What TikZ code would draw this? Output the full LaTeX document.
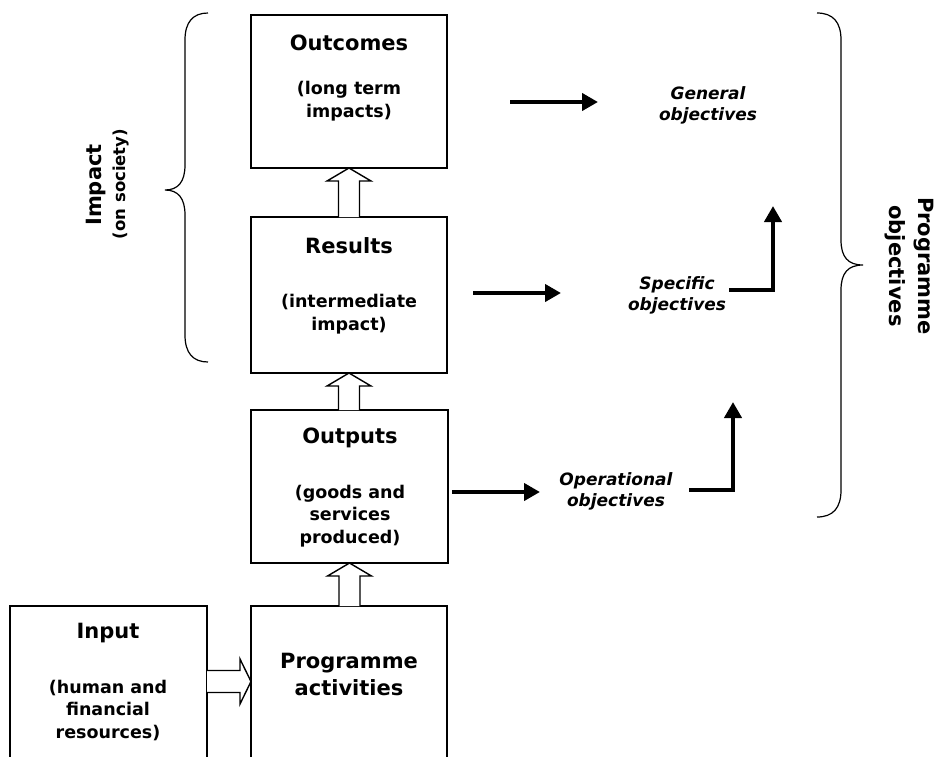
\documentclass[tikz,border=0pt]{standalone}
\usepackage{fontspec}
\setmainfont{DejaVu Sans}
\usetikzlibrary{arrows.meta,calc}
\begin{document}
\begin{tikzpicture}[x=1pt,y=-1pt,
  box/.style={draw,line width=1.4pt,anchor=north west,inner sep=0pt,outer sep=0pt,minimum width=196pt},
  openbox/.style={draw=none,line width=1.4pt,anchor=north west,inner sep=0pt,outer sep=0pt,minimum width=196pt,minimum height=151pt},
  side/.style={line width=1.4pt},
  boxtitle/.style={font=\fontsize{21}{25}\selectfont\bfseries,align=center,inner sep=0pt},
  boxsub/.style={font=\fontsize{17.5}{22.5}\selectfont\bfseries,align=center,inner sep=0pt},
  objtext/.style={font=\fontsize{17}{21}\selectfont\bfseries\itshape,align=center,inner sep=0pt},
  sidelabel/.style={font=\fontsize{21}{29}\selectfont\bfseries,align=center,inner sep=0pt},
  hollow/.style={line width=1.4pt,fill=white,line join=miter},
  blk/.style={line width=4.5pt,line join=miter,-{Triangle[length=16pt,width=17pt]}},
  brace/.style={line width=1.2pt}]
\useasboundingbox (0,0) rectangle (936,756);

% boxes
\node[box,minimum height=153pt] (outc) at (251,15) {};
\node[box,minimum height=156pt] (res) at (251,217) {};
\node[box,minimum height=153pt,minimum width=197pt] (outp) at (251,410) {};
\node[openbox] (act) at (251,606) {};
\node[openbox,minimum width=197pt] (inp) at (10,606) {};
\draw[side] (act.south west) -- (act.north west) -- (act.north east) -- (act.south east);
\draw[side] (inp.south west) -- (inp.north west) -- (inp.north east) -- (inp.south east);

% box texts
\node[boxtitle] (tOutc) at (349,43) {Outcomes};
\node[boxsub] (sOutc) at (349,101) {(long term\\impacts)};
\node[boxtitle] (tRes) at (349,246) {Results};
\node[boxsub] (sRes) at (349,314) {(intermediate\\impact)};
\node[boxtitle] (tOutp) at (350,438) {Outputs};
\node[boxsub] (sOutp) at (350,516) {(goods and\\services\\produced)};
\node[font=\fontsize{21}{27}\selectfont\bfseries,align=center,inner sep=0pt] (tAct) at (349,674) {Programme\\activities};
\node[boxtitle] (tInp) at (108,633) {Input};
\node[boxsub] (sInp) at (108,710) {(human and\\financial\\resources)};

% objectives
\node[objtext] (gen) at (708,105) {General\\objectives};
\node[objtext] (spec) at (677,295) {Specific\\objectives};
\node[objtext] (oper) at (616,491) {Operational\\objectives};

% side labels
\node[font=\fontsize{21}{25}\selectfont\bfseries,rotate=90,inner sep=0pt] (imp) at (96,185) {Impact};
\node[font=\fontsize{16.5}{18}\selectfont\bfseries,rotate=90,inner sep=0pt] (soc) at (121,184) {(on society)};
\node[sidelabel,rotate=-90] (prog) at (909,266) {Programme\\objectives};

% hollow arrows (vertical)
\draw[hollow] ($(res.south)+(-10.5,37)$) -- ($(res.south)+(-10.5,13)$) -- ($(res.south)+(-22,13)$) -- (res.south) -- ($(res.south)+(22,13)$) -- ($(res.south)+(10.5,13)$) -- ($(res.south)+(10.5,37)$);
\draw[hollow] ($(outc.south)+(-10.5,49)$) -- ($(outc.south)+(-10.5,13)$) -- ($(outc.south)+(-22,13)$) -- (outc.south) -- ($(outc.south)+(22,13)$) -- ($(outc.south)+(10.5,13)$) -- ($(outc.south)+(10.5,49)$);
\draw[hollow] ($(outp.south)+(-10.5,43)$) -- ($(outp.south)+(-10.5,13)$) -- ($(outp.south)+(-22,13)$) -- (outp.south) -- ($(outp.south)+(22,13)$) -- ($(outp.south)+(10.5,13)$) -- ($(outp.south)+(10.5,43)$);
% hollow arrow (horizontal)
\draw[hollow] ($(inp.east)+(0,-11)$) -- ($(act.west)+(-11,-11)$) -- ($(act.west)+(-11,-22.5)$) -- (act.west) -- ($(act.west)+(-11,22.5)$) -- ($(act.west)+(-11,11)$) -- ($(inp.east)+(0,11)$);

% black arrows
\coordinate (g1) at (510,102);
\coordinate (g2) at (598,102);
\coordinate (s1) at (473,293);
\coordinate (s2) at (561,293);
\coordinate (o1) at (452,492);
\coordinate (o2) at (540,492);
\draw[blk] (g1) -- (g2);
\draw[blk] (s1) -- (s2);
\draw[blk] (o1) -- (o2);
\coordinate (se1) at (729,290);
\coordinate (se2) at (773,206);
\coordinate (oe1) at (689,490);
\coordinate (oe2) at (733,402);
\draw[blk] (se1) -| (se2);
\draw[blk] (oe1) -| (oe2);

% braces
\draw[brace] (208,13) .. controls (193,13) and (185,22) .. (185,40) -- (185,165)
  .. controls (185,182) and (178,190) .. (165,190)
  .. controls (178,190) and (185,198) .. (185,215) -- (185,335)
  .. controls (185,353) and (193,362) .. (208,362);
\draw[brace] (817,13) .. controls (833,13) and (841,22) .. (841,40) -- (841,240)
  .. controls (841,257) and (848,265) .. (863,265)
  .. controls (848,265) and (841,273) .. (841,290) -- (841,490)
  .. controls (841,508) and (833,517) .. (817,517);
\end{tikzpicture}
\end{document}
